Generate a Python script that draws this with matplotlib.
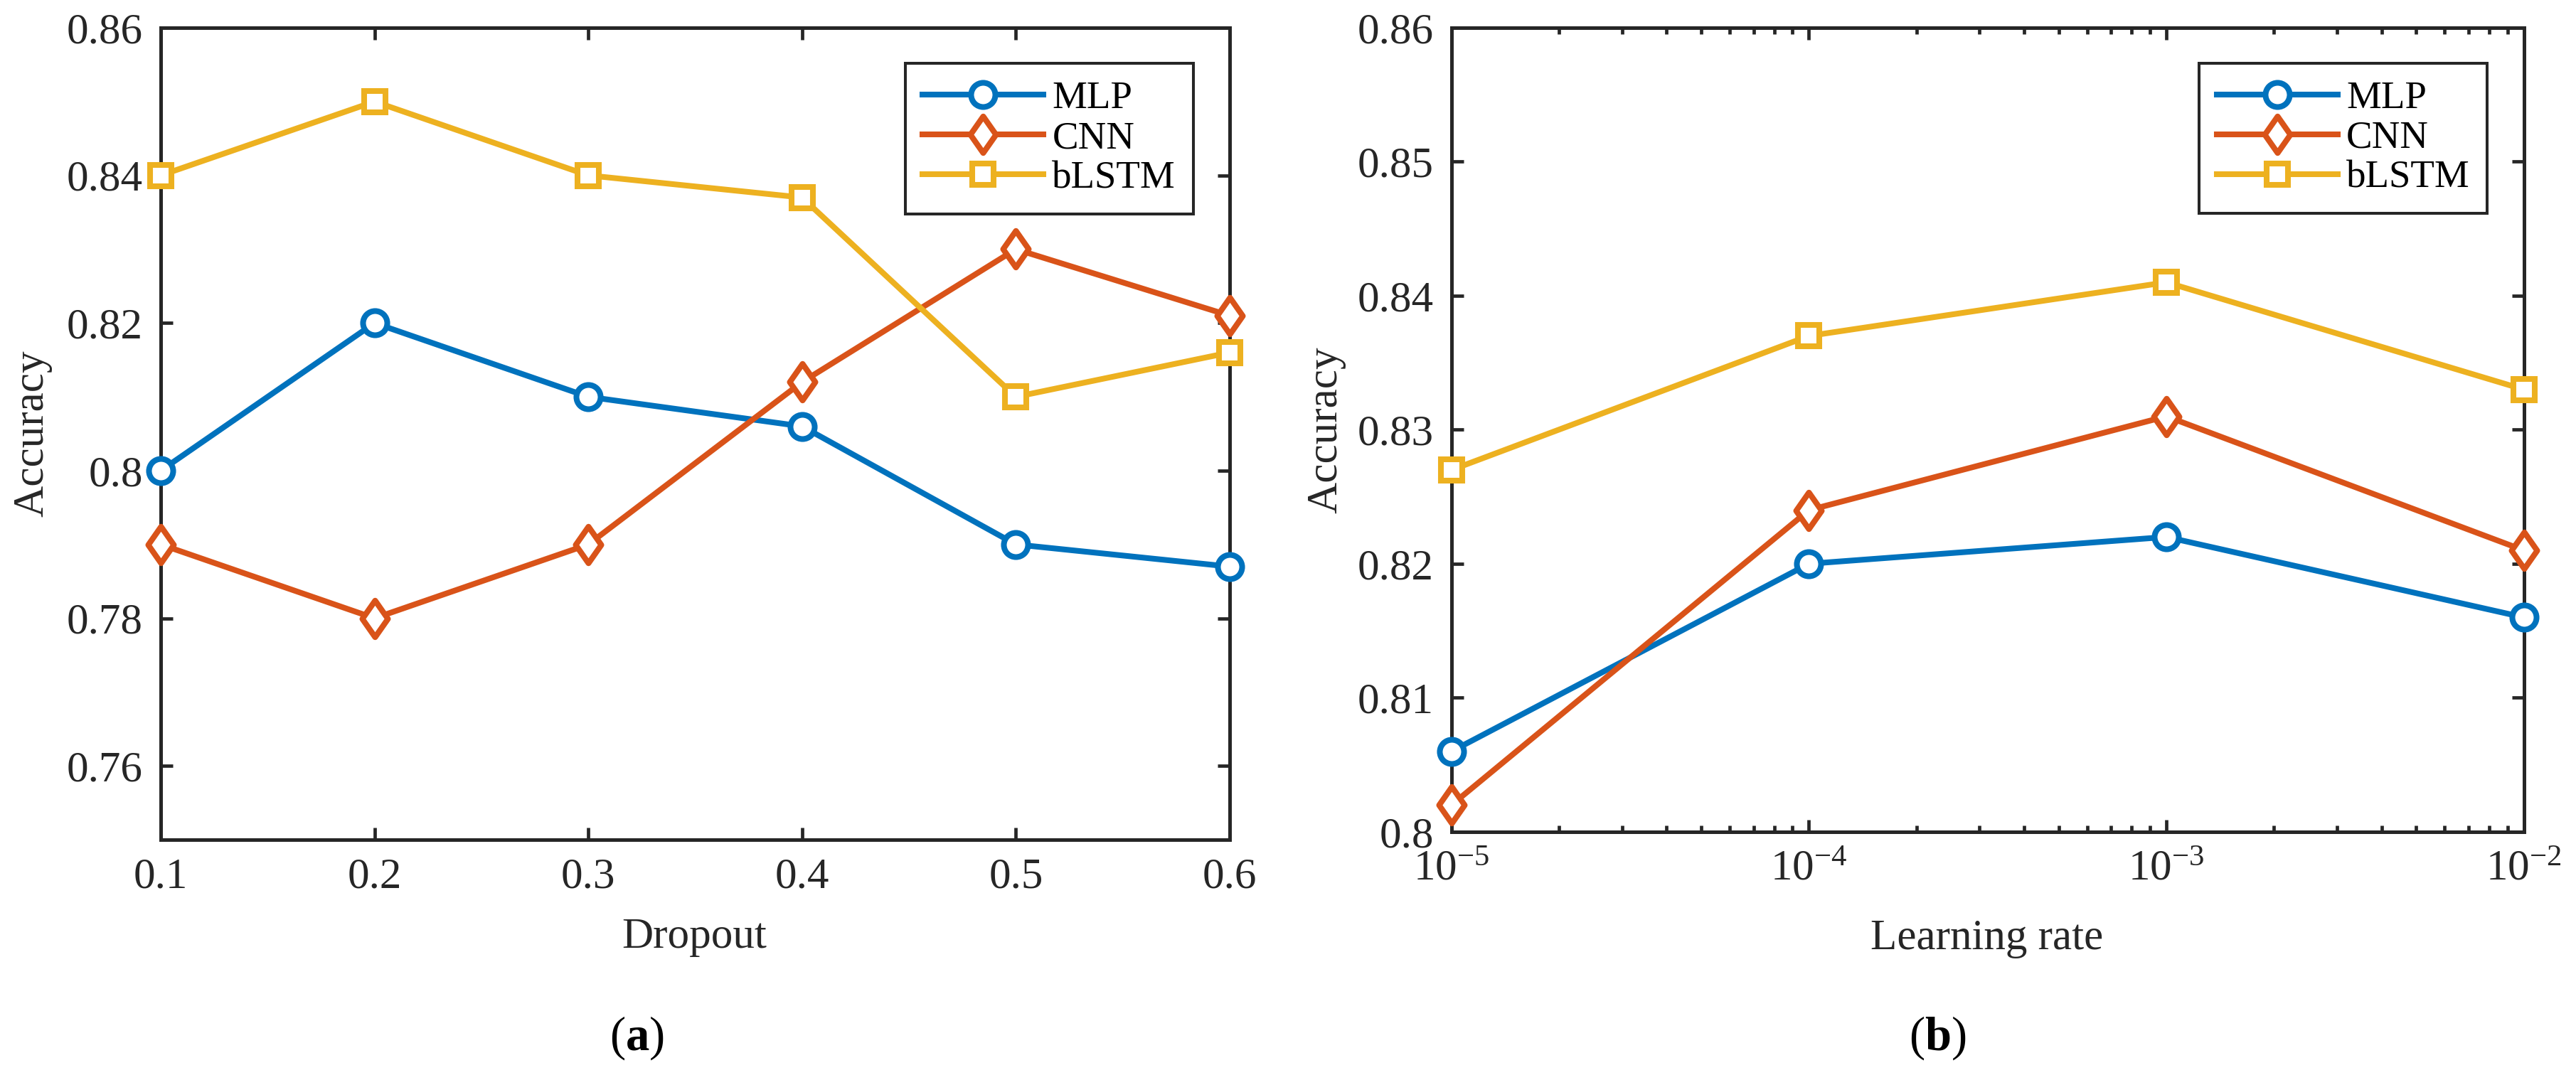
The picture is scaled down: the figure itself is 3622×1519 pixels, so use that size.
import numpy as np
import matplotlib
matplotlib.use("Agg")

import matplotlib.pyplot as plt
from matplotlib.path import Path
from matplotlib.ticker import FuncFormatter, FixedLocator, LogLocator, NullFormatter

# values
models = ["MLP", "CNN", "bLSTM"]

dropout = [0.1, 0.2, 0.3, 0.4, 0.5, 0.6]
drop_mlp = [0.800, 0.820, 0.810, 0.806, 0.790, 0.787]
drop_cnn = [0.790, 0.780, 0.790, 0.812, 0.830, 0.821]
drop_blstm = [0.840, 0.850, 0.840, 0.837, 0.810, 0.816]

lrate = [1e-5, 1e-4, 1e-3, 1e-2]
lr_mlp = [0.806, 0.820, 0.822, 0.816]
lr_cnn = [0.802, 0.824, 0.831, 0.821]
lr_blstm = [0.827, 0.837, 0.841, 0.833]

yticks_a = [0.76, 0.78, 0.80, 0.82, 0.84, 0.86]
yticks_b = [0.80, 0.81, 0.82, 0.83, 0.84, 0.85, 0.86]

colors = ["#0072BD", "#D95319", "#EDB120"]
dark = "#262626"

plt.rcParams["font.family"] = ["Liberation Serif", "DejaVu Serif"]
plt.rcParams["mathtext.fontset"] = "custom"
plt.rcParams["mathtext.rm"] = "Liberation Serif"
plt.rcParams["mathtext.it"] = "Liberation Serif:italic"
plt.rcParams["mathtext.bf"] = "Liberation Serif:bold"

diamond = Path([(0, 1), (0.7, 0), (0, -1), (-0.7, 0), (0, 1)],
               [Path.MOVETO, Path.LINETO, Path.LINETO, Path.LINETO, Path.CLOSEPOLY])
markers = ["o", diamond, "s"]
msizes = [24.5, 37, 21.6]
lw = 5.8
fs = 44

fig = plt.figure(figsize=(36.23, 15.19), dpi=100)
ax1 = fig.add_axes([0.0624, 0.2225, 0.4148, 0.7518])
ax2 = fig.add_axes([0.5633, 0.2298, 0.4162, 0.7446])


def draw(ax, x, series):
    for ys, name, c, m, ms in zip(series, models, colors, markers, msizes):
        ax.plot(x, ys, color=c, lw=lw, marker=m, markersize=ms,
                markeredgewidth=lw, markerfacecolor="white",
                markeredgecolor=c, label=name, clip_on=False, zorder=3)
    for s in ax.spines.values():
        s.set_linewidth(3.6)
        s.set_color(dark)
    ax.tick_params(which="both", direction="in", top=True, right=True,
                   colors=dark, labelsize=fs, pad=18, width=3.4)
    ax.tick_params(which="major", length=12)
    ax.tick_params(which="minor", length=6.5)
    leg = ax.legend(loc="upper right", bbox_to_anchor=(0.966, 0.956),
                    borderaxespad=0, fontsize=39.5, handlelength=3.1,
                    handletextpad=0.22, borderpad=0.45, labelspacing=0.1,
                    fancybox=False, framealpha=1, edgecolor=dark)
    leg.get_frame().set_linewidth(2.9)


draw(ax1, dropout, [drop_mlp, drop_cnn, drop_blstm])
ax1.set_xlim(0.1, 0.6)
ax1.set_ylim(0.75, 0.86)
ax1.set_xticks(dropout)
ax1.yaxis.set_major_locator(FixedLocator(yticks_a))
ax1.xaxis.set_major_formatter(FuncFormatter(lambda v, p: "%g" % round(v, 3)))
ax1.yaxis.set_major_formatter(FuncFormatter(lambda v, p: "%g" % round(v, 3)))
ax1.set_xlabel("Dropout", fontsize=fs, color=dark, va="center")
ax1.set_ylabel("Accuracy", fontsize=fs, color=dark, va="center")
ax1.xaxis.set_label_coords(0.499, -0.120)
ax1.yaxis.set_label_coords(-0.120, 0.5)

draw(ax2, lrate, [lr_mlp, lr_cnn, lr_blstm])
ax2.set_xscale("log")
ax2.set_xlim(1e-5, 1e-2)
ax2.set_ylim(0.80, 0.86)
ax2.xaxis.set_major_locator(FixedLocator(lrate))
ax2.xaxis.set_minor_locator(LogLocator(base=10, subs=np.arange(2, 10)))
ax2.xaxis.set_minor_formatter(NullFormatter())
ax2.xaxis.set_major_formatter(
    FuncFormatter(lambda v, p: r"$\mathregular{10^{%d}}$" % round(np.log10(v))))
ax2.yaxis.set_major_locator(FixedLocator(yticks_b))
ax2.yaxis.set_major_formatter(FuncFormatter(lambda v, p: "%g" % round(v, 3)))
ax2.set_xlabel("Learning rate", fontsize=fs, color=dark, va="center")
ax2.set_ylabel("Accuracy", fontsize=fs, color=dark, va="center")
ax2.xaxis.set_label_coords(0.499, -0.1326)
ax2.yaxis.set_label_coords(-0.117, 0.5)

fig.text(0.247, 0.039, r"($\mathbf{a}$)", fontsize=48, ha="center", va="center")
fig.text(0.752, 0.039, r"($\mathbf{b}$)", fontsize=48, ha="center", va="center")

fig.savefig("out.png", dpi=100)
